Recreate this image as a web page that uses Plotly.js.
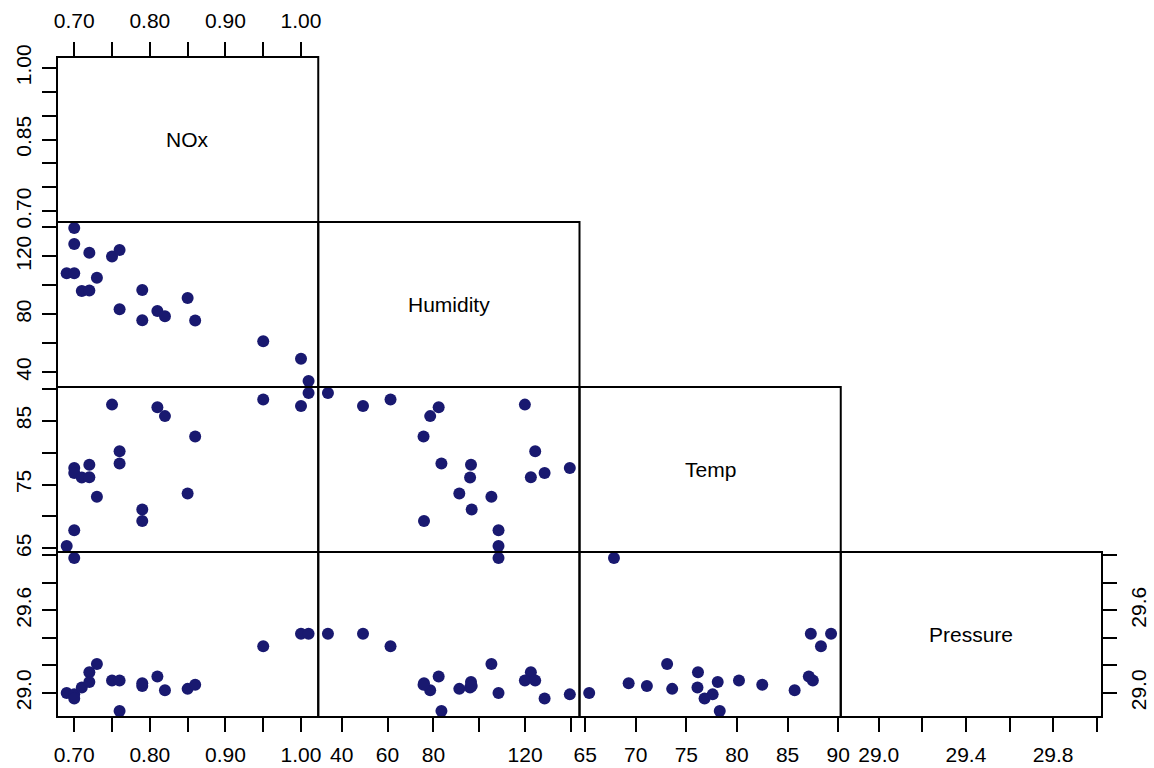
<!DOCTYPE html>
<html>
<head>
<meta charset="utf-8">
<script src="https://cdn.plot.ly/plotly-3.0.1.min.js"></script>
<style>html,body{margin:0;padding:0;background:#fff;}#plot{width:1154px;height:768px;}</style>
</head>
<body>
<div id="plot"></div>
<script>
// ---- data ----
const varNames = ['NOx', 'Humidity', 'Temp', 'Pressure'];
const nox      = [0.69, 0.70, 0.70, 0.70, 0.71, 0.72, 0.72, 0.73, 0.75, 0.76, 0.76, 0.79, 0.79, 0.81, 0.82, 0.85, 0.86, 0.95, 1.00, 1.01];
const humidity = [108.4, 139.5, 128.5, 108.4, 96.0, 122.5, 96.4, 105.3, 119.9, 124.4, 83.5, 96.7, 75.9, 82.3, 78.6, 91.3, 75.7, 61.3, 49.3, 34.0];
const temp     = [65.4, 77.6, 76.8, 67.85, 76.1, 76.15, 78.1, 73.1, 87.5, 80.2, 78.3, 71.1, 69.3, 87.1, 85.7, 73.6, 82.5, 88.3, 87.3, 89.3];
const pressure = [29.00, 28.99, 28.96, 29.98, 29.04, 29.15, 29.08, 29.21, 29.09, 29.09, 28.87, 29.05, 29.07, 29.12, 29.02, 29.03, 29.06, 29.34, 29.43, 29.43];

// tick values and labels
const noxTicks = [0.70, 0.75, 0.80, 0.85, 0.90, 0.95, 1.00];
const noxLabelsH = ['0.70', '', '0.80', '', '0.90', '', '1.00'];
const noxLabelsV = ['0.70', '', '', '0.85', '', '', '1.00'];
const humTicks = [40, 60, 80, 100, 120, 140];
const humLabelsH = ['40', '60', '80', '', '120', ''];
const humLabelsV = ['40', '', '80', '', '120', ''];
const tempTicks = [65, 70, 75, 80, 85, 90];
const tempLabelsH = ['65', '70', '75', '80', '85', '90'];
const tempLabelsV = ['65', '', '75', '', '85', ''];
const presTicks = [29.0, 29.2, 29.4, 29.6, 29.8, 30.0];
const presLabelsH = ['29.0', '', '29.4', '', '29.8', ''];
const presLabelsV = ['29.0', '', '', '29.6', '', ''];

const series = [nox, humidity, temp, pressure];
const ticksH = [[noxTicks, noxLabelsH], [humTicks, humLabelsH], [tempTicks, tempLabelsH], [presTicks, presLabelsH]];
const ticksV = [[noxTicks, noxLabelsV], [humTicks, humLabelsV], [tempTicks, tempLabelsV], [presTicks, presLabelsV]];

function rng(a) {
  const mn = Math.min(...a), mx = Math.max(...a), d = (mx - mn) * 0.04;
  return [mn - d, mx + d];
}

const FONT = 'Liberation Sans, Arial, Helvetica, sans-serif';
const FS = 21;
const N = 4;
const traces = [];
const layout = {
  width: 1154, height: 768,
  margin: {l: 57, r: 52, t: 57, b: 51, pad: 0},
  paper_bgcolor: '#fff', plot_bgcolor: 'rgba(0,0,0,0)',
  showlegend: false,
  font: {family: FONT, size: FS, color: '#000'},
  shapes: [], annotations: []
};

function baseAxis() {
  return {showgrid: false, zeroline: false, showline: false, ticks: '', showticklabels: false,
          fixedrange: true, ticklen: 14, tickwidth: 2, tickcolor: '#000',
          tickfont: {family: FONT, size: FS, color: '#000'}};
}

let k = 0;
for (let i = 0; i < N; i++) {
  for (let j = 0; j <= i; j++) {
    k++;
    const xn = 'xaxis' + (k === 1 ? '' : k), yn = 'yaxis' + (k === 1 ? '' : k);
    const xr = 'x' + (k === 1 ? '' : k), yr = 'y' + (k === 1 ? '' : k);
    const xd = [j / N, (j + 1) / N], yd = [1 - (i + 1) / N, 1 - i / N];
    const xa = baseAxis(), ya = baseAxis();
    xa.domain = xd; ya.domain = yd;
    xa.range = rng(series[j]); ya.range = rng(series[i]);
    xa.anchor = yr; ya.anchor = xr;
    if (i === N - 1) {
      Object.assign(xa, {side: 'bottom', ticks: 'outside', showticklabels: true,
        tickmode: 'array', tickvals: ticksH[j][0], ticktext: ticksH[j][1], ticklabelstandoff: 5});
    }
    if (i === 0 && j === 0) {
      Object.assign(xa, {side: 'top', ticks: 'outside', showticklabels: true,
        tickmode: 'array', tickvals: ticksH[j][0], ticktext: ticksH[j][1], ticklabelstandoff: 6});
    }
    if (j === 0) {
      Object.assign(ya, {side: 'left', ticks: 'outside', showticklabels: true, tickangle: -90,
        tickmode: 'array', tickvals: ticksV[i][0], ticktext: ticksV[i][1], ticklabelstandoff: 3});
    }
    if (i === N - 1 && j === N - 1) {
      Object.assign(ya, {side: 'right', ticks: 'outside', showticklabels: true, tickangle: -90,
        tickmode: 'array', tickvals: ticksV[i][0], ticktext: ticksV[i][1], ticklabelstandoff: 4});
    }
    layout[xn] = xa; layout[yn] = ya;

    if (i === j) {
      traces.push({type: 'scatter', mode: 'markers', x: [], y: [], xaxis: xr, yaxis: yr, hoverinfo: 'skip'});
      layout.annotations.push({xref: 'paper', yref: 'paper', x: (xd[0] + xd[1]) / 2, y: (yd[0] + yd[1]) / 2,
        text: varNames[i], showarrow: false, xanchor: 'center', yanchor: 'middle',
        font: {family: FONT, size: FS, color: '#000'}});
    } else {
      traces.push({type: 'scatter', mode: 'markers', x: series[j], y: series[i], xaxis: xr, yaxis: yr,
        cliponaxis: false, marker: {color: '#191970', size: 12, line: {width: 0}}, hoverinfo: 'skip'});
    }
    layout.shapes.push({type: 'rect', xref: 'paper', yref: 'paper', x0: xd[0], x1: xd[1], y0: yd[0], y1: yd[1],
      line: {color: '#000', width: 2}, fillcolor: 'rgba(0,0,0,0)', layer: 'above'});
  }
}

Plotly.newPlot('plot', traces, layout, {displayModeBar: false, staticPlot: true});
</script>
</body>
</html>
